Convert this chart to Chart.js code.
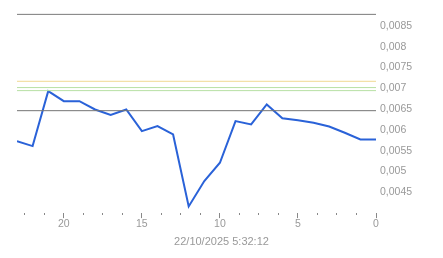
<!DOCTYPE html>
<html>
<head>
<meta charset="utf-8">
<script src="https://cdn.jsdelivr.net/npm/chart.js@4"></script>
<style>
  html, body { margin: 0; padding: 0; background: #fff; }
  #wrap { width: 443px; height: 258px; }
</style>
</head>
<body>
<div id="wrap"><canvas id="grafico"></canvas></div>
<script>
// minutos antes da leitura (23 .. 0) e valores lidos
const minutos = [23, 22, 21, 20, 19, 18, 17, 16, 15, 14, 13, 12, 11, 10, 9, 8, 7, 6, 5, 4, 3, 2, 1, 0];
const valores = [0.00573, 0.00561, 0.00693, 0.00669, 0.00669, 0.00649, 0.00636, 0.00649, 0.00597, 0.00609,
  0.00589, 0.00416, 0.00477, 0.00521, 0.00621, 0.00613, 0.00661, 0.00628, 0.00623, 0.00617, 0.00608,
  0.00593, 0.00577, 0.00577];

// linhas de referência horizontais
const linhasValor = [0.008775, 0.007167, 0.007016, 0.006943, 0.006461];
const linhasCor = ['#7a7a7a', '#f0d890', '#b8e0a4', '#b8e0a4', '#757575'];

const ticksY = [0.0045, 0.005, 0.0055, 0.006, 0.0065, 0.007, 0.0075, 0.008, 0.0085];
const tituloX = '22/10/2025 5:32:12';

const cinza = '#999999';
const fonte = 'Liberation Sans, Arial, sans-serif';

// monta os datasets das linhas de referência
const datasetsLinhas = linhasValor.map((v, i) => ({
  data: [{ x: 23, y: v }, { x: 0, y: v }],
  borderColor: linhasCor[i],
  borderWidth: 1,
  pointRadius: 0,
  fill: false
}));

const serie = {
  data: minutos.map((m, i) => ({ x: m, y: valores[i] })),
  borderColor: '#2a62d8',
  borderWidth: 2,
  pointRadius: 0,
  tension: 0,
  fill: false
};

const ctx = document.getElementById('grafico');
new Chart(ctx, {
  type: 'line',
  data: { datasets: datasetsLinhas.concat([serie]) },
  options: {
    responsive: true,
    maintainAspectRatio: false,
    animation: false,
    layout: { padding: { left: 0, top: 5, right: 0, bottom: 0 } },
    plugins: {
      legend: { display: false },
      tooltip: { enabled: false },
      title: { // data da leitura, centrada no canvas todo
        display: true,
        position: 'bottom',
        text: tituloX,
        color: cinza,
        padding: { top: 1.1, bottom: 9.8 },
        font: { family: fonte, size: 11, weight: 'normal' }
      }
    },
    scales: {
      x: {
        type: 'linear',
        reverse: true,
        min: 0,
        max: 23,
        border: { display: false },
        grid: {
          drawOnChartArea: false,
          drawTicks: true,
          tickLength: 5,
          tickColor: '#888',
          tickBorderDash: (c) => (c.tick && c.tick.value % 5 === 0) ? [] : [2, 10]
        },
        ticks: {
          stepSize: 1.25,
          includeBounds: false,
          autoSkip: false,
          maxRotation: 0,
          padding: 0,
          color: cinza,
          font: { family: fonte, size: 10.5 },
          callback: (v) => (v % 5 === 0) ? String(v) : ''
        },
        afterFit: (s) => { s.height = 20.8; s.paddingLeft = 0; s.paddingRight = 0; }
      },
      esq: { // eixo vazio só para dar a margem da esquerda
        type: 'linear',
        position: 'left',
        display: true,
        border: { display: false },
        grid: { display: false, drawTicks: false },
        ticks: { display: false },
        afterFit: (s) => { s.width = 17; s.paddingTop = 0; s.paddingBottom = 0; }
      },
      y: {
        position: 'right',
        min: 0.004,
        max: 0.009,
        border: { display: false },
        grid: { display: false, drawTicks: false },
        afterBuildTicks: (s) => { s.ticks = ticksY.map(v => ({ value: v })); },
        ticks: {
          padding: 4,
          color: cinza,
          font: { family: fonte, size: 10.5 },
          callback: (v) => String(+v.toFixed(4)).replace('.', ',')
        },
        afterFit: (s) => { s.width = 67; s.paddingTop = 0; s.paddingBottom = 0; }
      }
    }
  }
});
</script>
</body>
</html>
